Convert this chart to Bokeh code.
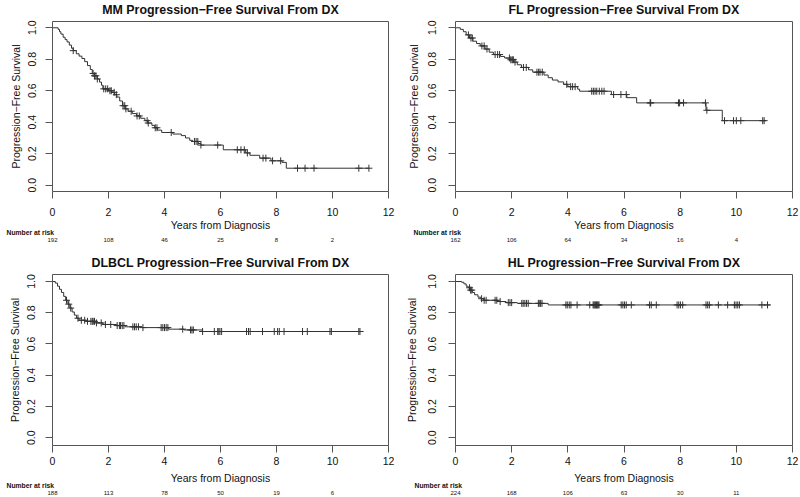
import numpy as np
from bokeh.plotting import figure
from bokeh.models import Range1d, FixedTicker, PrintfTickFormatter, Title, LinearAxis
from bokeh.layouts import gridplot
from bokeh.embed import file_html
from bokeh.resources import INLINE

FONT = "Liberation Sans"

# ---------------- data ----------------
risk_times = [0, 2, 4, 6, 8, 10]
x_ticks = [0, 2, 4, 6, 8, 10, 12]
y_ticks = [0.0, 0.2, 0.4, 0.6, 0.8, 1.0]

mm_title = "MM Progression\u2212Free Survival From DX"
mm_time = [0, 0.2, 0.25, 0.3, 0.38, 0.45, 0.52, 0.6, 0.68, 0.74, 0.85, 0.95, 1.05, 1.15, 1.25,
           1.35, 1.42, 1.5, 1.6, 1.68, 1.75, 1.8, 2.0, 2.12, 2.22, 2.3, 2.4, 2.5, 2.6, 2.7, 2.85,
           3.0, 3.15, 3.3, 3.4, 3.55, 3.65, 3.75, 3.9, 4.3, 4.6, 4.75, 4.9, 5.0, 5.2, 5.3, 6.1,
           6.9, 7.05, 7.4, 7.8, 8.2, 8.35]
mm_surv = [1.0, 0.99, 0.975, 0.96, 0.94, 0.925, 0.91, 0.89, 0.87, 0.855, 0.835, 0.82, 0.805,
           0.785, 0.76, 0.735, 0.71, 0.695, 0.675, 0.655, 0.635, 0.612, 0.60, 0.59, 0.575, 0.56,
           0.535, 0.505, 0.485, 0.47, 0.455, 0.44, 0.425, 0.41, 0.395, 0.38, 0.365, 0.35, 0.335,
           0.325, 0.315, 0.30, 0.285, 0.278, 0.265, 0.255, 0.225, 0.205, 0.19, 0.172, 0.155,
           0.145, 0.108]
mm_end = 11.3
mm_censor = [0.74, 1.45, 1.5, 1.55, 1.6, 1.83, 1.9, 1.97, 2.05, 2.1, 2.2, 2.28, 2.52, 2.58, 2.62,
             2.81, 3.02, 3.1, 3.38, 3.42, 3.67, 3.73, 4.24, 5.07, 5.13, 5.19, 5.3, 5.9, 6.6, 6.73,
             6.85, 6.96, 7.52, 7.62, 7.86, 8.15, 8.75, 9.02, 9.34, 10.94, 11.3]
mm_risk = [192, 108, 46, 25, 8, 2]

fl_title = "FL Progression\u2212Free Survival From DX"
fl_time = [0, 0.17, 0.28, 0.38, 0.5, 0.62, 0.75, 0.88, 1.05, 1.2, 1.35, 1.6, 1.75, 1.95, 2.08,
           2.2, 2.35, 2.6, 2.75, 3.15, 3.3, 3.45, 3.65, 3.85, 4.0, 4.35, 4.42, 5.55, 6.1, 6.45,
           8.92, 9.5]
fl_surv = [1.0, 0.99, 0.975, 0.955, 0.935, 0.915, 0.9, 0.885, 0.865, 0.845, 0.83, 0.818, 0.808,
           0.797, 0.782, 0.765, 0.748, 0.733, 0.718, 0.70, 0.683, 0.668, 0.656, 0.641, 0.626,
           0.61, 0.597, 0.576, 0.556, 0.523, 0.476, 0.41]
fl_end = 11.05
fl_censor = [0.46, 0.55, 0.6, 0.94, 1.02, 1.12, 1.41, 1.5, 1.57, 1.92, 1.97, 2.02, 2.06, 2.12,
             2.42, 2.52, 2.9, 2.96, 3.01, 3.09, 3.96, 4.1, 4.17, 4.26, 4.85, 4.91, 4.97, 5.03,
             5.12, 5.21, 5.29, 5.63, 5.89, 6.08, 6.93, 6.95, 7.94, 7.98, 8.12, 8.9, 8.95, 9.58,
             9.9, 10.0, 10.16, 10.94, 10.99]
fl_risk = [162, 106, 64, 34, 16, 4]

dl_title = "DLBCL Progression\u2212Free Survival From DX"
dl_time = [0, 0.1, 0.18, 0.25, 0.32, 0.4, 0.47, 0.55, 0.62, 0.7, 0.78, 0.86, 0.95, 1.2, 1.55,
           1.8, 2.3, 2.6, 3.2, 4.15, 4.7, 5.35]
dl_surv = [1.0, 0.99, 0.97, 0.95, 0.93, 0.905, 0.88, 0.855, 0.83, 0.805, 0.785, 0.765, 0.752,
           0.745, 0.735, 0.725, 0.718, 0.71, 0.705, 0.695, 0.69, 0.68]
dl_end = 11.1
dl_censor = [0.5, 0.58, 0.65, 0.91, 1.03, 1.15, 1.25, 1.37, 1.42, 1.45, 1.5, 1.57, 1.74, 1.89,
             2.08, 2.31, 2.39, 2.43, 2.49, 2.55, 2.87, 2.93, 2.99, 3.07, 3.23, 3.88, 3.94, 4.0,
             4.06, 4.12, 4.65, 4.93, 4.98, 5.03, 5.36, 5.78, 5.9, 5.94, 5.98, 6.04, 6.93, 7.0,
             7.06, 7.5, 7.92, 8.04, 8.1, 8.27, 8.93, 9.1, 9.91, 9.96, 10.94, 10.98]
dl_risk = [188, 113, 78, 50, 19, 6]

hl_title = "HL Progression\u2212Free Survival From DX"
hl_time = [0, 0.22, 0.3, 0.38, 0.45, 0.52, 0.6, 0.68, 0.8, 0.9, 1.0, 1.5, 1.8, 2.2, 3.3]
hl_surv = [1.0, 0.995, 0.985, 0.97, 0.96, 0.945, 0.93, 0.915, 0.9, 0.89, 0.88, 0.872, 0.865,
           0.86, 0.85]
hl_end = 11.2
hl_censor = [0.5, 0.54, 0.58, 0.93, 1.02, 1.09, 1.41, 1.47, 1.59, 1.88, 1.94, 2.0, 2.36, 2.41,
             2.47, 2.53, 2.59, 2.95, 2.98, 3.03, 3.08, 3.93, 3.98, 4.05, 4.11, 4.33, 4.78, 4.9,
             4.93, 4.96, 4.99, 5.02, 5.05, 5.08, 5.11, 5.9, 5.96, 6.02, 6.08, 6.26, 6.91, 6.97,
             7.15, 7.89, 7.95, 8.01, 8.09, 8.92, 8.98, 9.04, 9.36, 9.69, 9.93, 9.99, 10.05,
             10.11, 10.91, 11.11]
hl_risk = [224, 168, 106, 63, 30, 11]

x_label = "Years from Diagnosis"
y_label = "Progression\u2212Free Survival"
risk_label = "Number at risk"

BOX = "#555555"
CURVE = "#333333"
TEXT = "#111111"


def km_panel(title, times, surv, end, censor, risk, width, height, bl, br, bt, bb, yr,
             t_std, x_std, x_lstd, y_std, y_lstd, nar_off, nar_std, num_std):
    p = figure(width=width, height=height, x_range=Range1d(0, 12), y_range=Range1d(*yr),
               output_backend="svg", toolbar_location=None, tools="",
               min_border_left=bl, min_border_right=br, min_border_top=bt,
               min_border_bottom=bb)
    p.background_fill_color = "white"
    p.border_fill_color = "white"
    p.outline_line_color = BOX
    p.outline_line_width = 1
    p.xgrid.visible = False
    p.ygrid.visible = False

    p.title.text = title
    p.title.align = "center"
    p.title.vertical_align = "top"
    p.title.standoff = t_std
    p.title.text_font = FONT
    p.title.text_font_size = "12.4px"
    p.title.text_font_style = "bold"
    p.title.text_color = TEXT

    xa = p.xaxis[0]
    xa.ticker = FixedTicker(ticks=x_ticks)
    xa.axis_label = x_label
    ya = p.yaxis[0]
    ya.ticker = FixedTicker(ticks=y_ticks)
    ya.formatter = PrintfTickFormatter(format="%.1f")
    ya.axis_label = y_label
    ya.major_label_orientation = "vertical"
    for ax in (xa, ya):
        ax.axis_line_color = None
        ax.major_tick_line_color = BOX
        ax.major_tick_out = 7
        ax.major_tick_in = 0
        ax.minor_tick_line_color = None
        ax.major_label_text_font = FONT
        ax.major_label_text_font_size = "10.5px"
        ax.major_label_text_color = TEXT
        ax.axis_label_text_font = FONT
        ax.axis_label_text_font_size = "10.5px"
        ax.axis_label_text_font_style = "normal"
        ax.axis_label_text_color = TEXT
    xa.major_label_standoff = x_std
    xa.axis_label_standoff = x_lstd
    ya.major_label_standoff = y_std
    ya.axis_label_standoff = y_lstd

    # "Number at risk" heading, left-aligned near the canvas edge
    nar = Title(text=risk_label, align="left", vertical_align="top", offset=nar_off,
                standoff=nar_std, text_font=FONT, text_font_size="6.8px",
                text_font_style="bold", text_color=TEXT)
    p.add_layout(nar, "below")

    # numbers at risk as a label-only axis
    risk_axis = LinearAxis(ticker=FixedTicker(ticks=risk_times),
                           major_label_overrides={t: str(n) for t, n in zip(risk_times, risk)})
    risk_axis.axis_line_color = None
    risk_axis.major_tick_line_color = None
    risk_axis.minor_tick_line_color = None
    risk_axis.major_tick_out = 0
    risk_axis.major_tick_in = 0
    risk_axis.major_label_standoff = num_std
    risk_axis.major_label_text_font = FONT
    risk_axis.major_label_text_font_size = "6px"
    risk_axis.major_label_text_color = TEXT
    p.add_layout(risk_axis, "below")

    xs = list(times) + [end]
    ys = list(surv) + [surv[-1]]
    p.step(xs, ys, mode="after", line_color=CURVE, line_width=1)

    t = np.asarray(times)
    s = np.asarray(surv)
    idx = np.searchsorted(t, np.asarray(censor), side="right") - 1
    p.scatter(censor, s[idx], marker="cross", size=7, line_color=CURVE, line_width=1)
    return p


p1 = km_panel(mm_title, mm_time, mm_surv, mm_end, mm_censor, mm_risk,
              400, 248, 51, 12, 21, 57, (-0.04, 1.04), 5, 9, 0, 9, 4, -46, -10, 4)
p2 = km_panel(fl_title, fl_time, fl_surv, fl_end, fl_censor, fl_risk,
              400, 248, 55, 8, 21, 57, (-0.04, 1.04), 5, 9, 0, 12, 6, -42, -10, 4)
p3 = km_panel(dl_title, dl_time, dl_surv, dl_end, dl_censor, dl_risk,
              400, 249, 52, 11, 26, 50, (-0.05, 1.045), 5, 4, 4, 10, 4, -46, -9, 4)
p4 = km_panel(hl_title, hl_time, hl_surv, hl_end, hl_censor, hl_risk,
              400, 249, 55, 7, 26, 50, (-0.05, 1.045), 5, 4, 4, 12, 8, -41, -9, 4)

grid = gridplot([[p1, p2], [p3, p4]], toolbar_location=None)

open("out.html", "w").write(file_html(grid, INLINE))
